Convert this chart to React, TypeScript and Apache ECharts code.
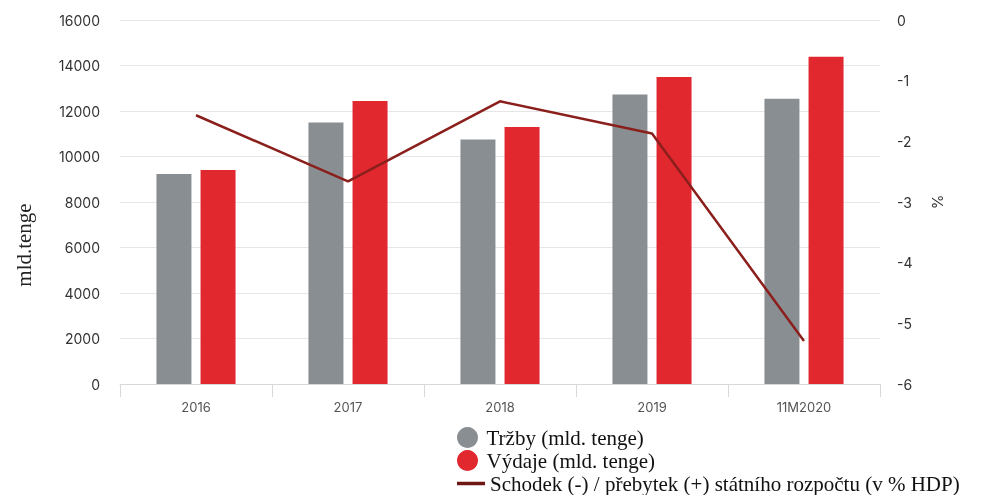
import React, { useEffect, useRef } from "react";
import * as echarts from "echarts";

const categories = ["2016", "2017", "2018", "2019", "11M2020"];
const revenues = [9230, 11490, 10750, 12720, 12540];
const expenses = [9410, 12440, 11300, 13500, 14390];
const balance = [-1.57, -2.66, -1.34, -1.87, -5.29];

const NAME_REV = "Tržby (mld. tenge)";
const NAME_EXP = "Výdaje (mld. tenge)";
const NAME_BAL = "Schodek (-) / přebytek (+) státního rozpočtu (v % HDP)";

const SANS = "Inter, 'Noto Sans', sans-serif";
const SERIF = "'Liberation Serif', 'DejaVu Serif', serif";

const legendBase = {
  orient: "horizontal",
  left: 457,
  itemWidth: 28,
  itemHeight: 21,
  padding: 0,
  textStyle: { fontFamily: SERIF, fontSize: 21, color: "#111", padding: [0, 0, 0, 0] },
};

export default function App() {
  const ref = useRef<HTMLDivElement>(null);
  useEffect(() => {
    if (!ref.current) return;
    const chart = echarts.init(ref.current, null, { renderer: "svg" });
    chart.setOption({
      animation: false,
      grid: { left: 120, right: 101, top: 20, bottom: 111 },
      legend: [
        { ...legendBase, top: 427, data: [{ name: NAME_REV, icon: "circle" }] },
        { ...legendBase, top: 450, data: [{ name: NAME_EXP, icon: "circle" }] },
        {
          ...legendBase,
          top: 473,
          data: [{ name: NAME_BAL, icon: "path://M0 0 H28 V3.5 H0 Z" }],
        },
      ],
      graphic: [
        {
          type: "text",
          x: 24,
          y: 245,
          rotation: Math.PI / 2,
          style: {
            text: "mld.tenge",
            font: "21px " + SERIF,
            fill: "#222",
            align: "center",
            verticalAlign: "middle",
          },
        },
      ],
      xAxis: {
        type: "category",
        data: categories,
        axisLine: { lineStyle: { color: "#d8d8d8" } },
        axisTick: { show: true, length: 13, lineStyle: { color: "#d8d8d8" } },
        axisLabel: { color: "#555", fontFamily: SANS, fontSize: 13, margin: 16 },
      },
      yAxis: [
        {
          type: "value",
          min: 0,
          max: 16000,
          interval: 2000,
          axisLine: { show: false },
          axisTick: { show: false },
          axisLabel: {
            color: "#333",
            fontFamily: SANS,
            fontSize: 14,
            margin: 20,
            formatter: (v: number) => String(v),
          },
          splitLine: { lineStyle: { color: "#e6e6e6" } },
        },
        {
          type: "value",
          min: -6,
          max: 0,
          interval: 1,
          name: "%",
          nameLocation: "middle",
          nameGap: 50,
          nameTextStyle: { color: "#333", fontFamily: SANS, fontSize: 15 },
          axisLine: { show: false },
          axisTick: { show: false },
          axisLabel: { color: "#333", fontFamily: SANS, fontSize: 14, margin: 17 },
          splitLine: { show: false },
        },
      ],
      series: [
        {
          name: NAME_REV,
          type: "bar",
          data: revenues,
          barWidth: 35,
          barGap: "26%",
          itemStyle: { color: "#898e92" },
        },
        {
          name: NAME_EXP,
          type: "bar",
          data: expenses,
          barWidth: 35,
          itemStyle: { color: "#e0282e" },
        },
        {
          name: NAME_BAL,
          type: "line",
          yAxisIndex: 1,
          data: balance,
          symbol: "none",
          lineStyle: { color: "#8a1f1c", width: 2.5 },
          itemStyle: { color: "#6e1614" },
        },
      ],
    });
    return () => chart.dispose();
  }, []);
  return (
    <div
      ref={ref}
      style={{ position: "fixed", left: 0, top: 0, width: 981, height: 495 }}
    />
  );
}
